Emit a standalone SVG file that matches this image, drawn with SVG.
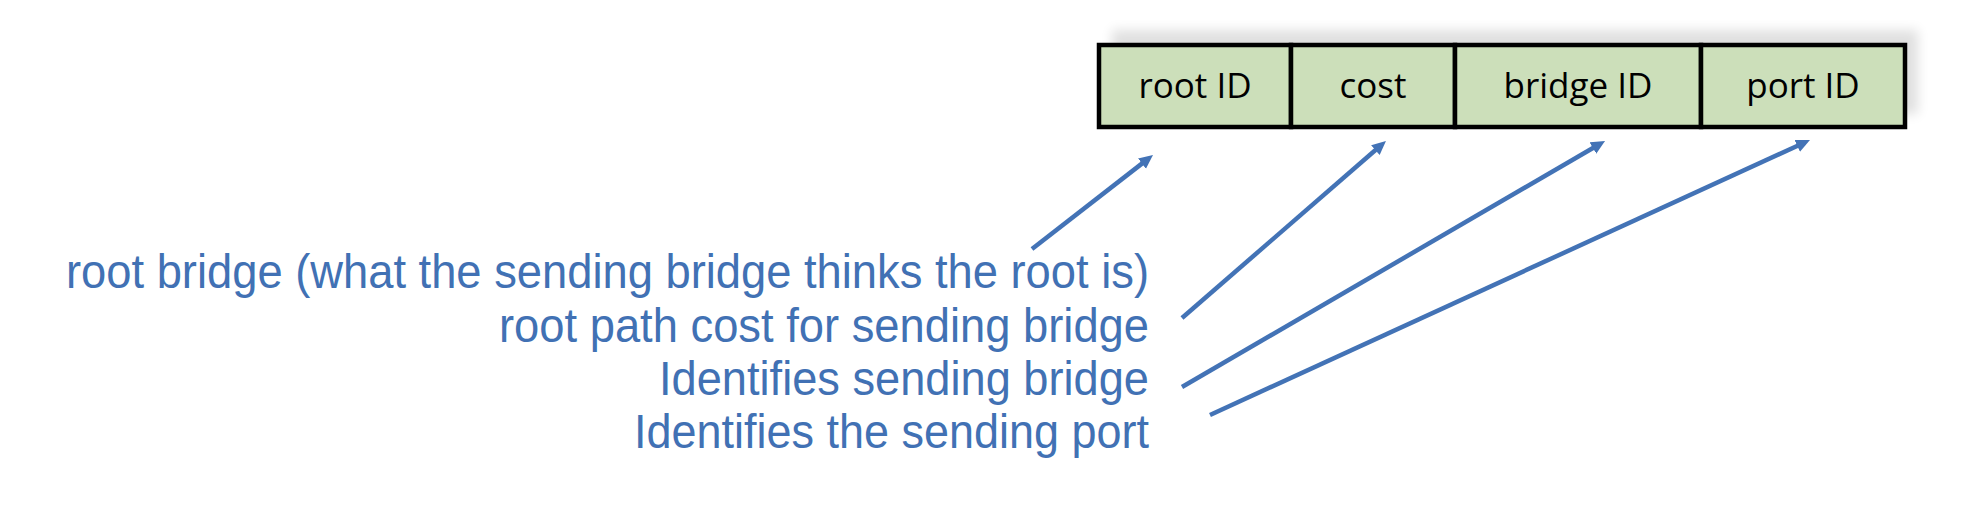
<svg xmlns="http://www.w3.org/2000/svg" width="1962" height="510" viewBox="0 0 1962 510">
  <style>
    .cell { fill: #CCDFBA; stroke: #000; stroke-width: 4.5; }
    .cellText { font-family: "Open Sans", "Liberation Sans", sans-serif; font-size: 35px; fill: #000; text-anchor: middle; }
    .label { font-family: "Liberation Sans", Arial, sans-serif; font-size: 47.5px; fill: #4171B4; text-anchor: end; }
    .conn { stroke: #4373B6; stroke-width: 4.5; fill: none; marker-end: url(#arrow); }
  </style>
  <defs>
    <marker id="arrow" markerUnits="userSpaceOnUse" markerWidth="16" markerHeight="14" refX="4" refY="6.5" orient="auto">
      <path d="M0,0 L14,6.5 L0,13 Z" fill="#4373B6"/>
    </marker>
    <filter id="shadow" x="-10%" y="-50%" width="120%" height="200%">
      <feGaussianBlur stdDeviation="6"/>
    </filter>
  </defs>
  <rect width="1962" height="510" fill="#fff"/>
  <g id="table">
    <rect x="1112" y="30" width="806" height="84" fill="#000" opacity="0.12" filter="url(#shadow)"/>
    <g id="cell-root-id">
      <rect class="cell" x="1099" y="45" width="192" height="82"/>
      <text class="cellText" x="1195" y="98">root ID</text>
    </g>
    <g id="cell-cost">
      <rect class="cell" x="1291" y="45" width="164" height="82"/>
      <text class="cellText" x="1373" y="98">cost</text>
    </g>
    <g id="cell-bridge-id">
      <rect class="cell" x="1455" y="45" width="246" height="82"/>
      <text class="cellText" x="1578" y="98">bridge ID</text>
    </g>
    <g id="cell-port-id">
      <rect class="cell" x="1701" y="45" width="204" height="82"/>
      <text class="cellText" x="1803" y="98">port ID</text>
    </g>
  </g>
  <g id="label-root">
    <text class="label" x="1149" y="288" textLength="1083" lengthAdjust="spacingAndGlyphs">root bridge (what the sending bridge thinks the root is)</text>
  </g>
  <g id="label-cost">
    <text class="label" x="1149" y="342" textLength="650" lengthAdjust="spacingAndGlyphs">root path cost for sending bridge</text>
  </g>
  <g id="label-bridge">
    <text class="label" x="1149" y="395" textLength="490" lengthAdjust="spacingAndGlyphs">Identifies sending bridge</text>
  </g>
  <g id="label-port">
    <text class="label" x="1149" y="448" textLength="515" lengthAdjust="spacingAndGlyphs">Identifies the sending port</text>
  </g>
  <g id="connectors">
    <line class="conn" x1="1032" y1="249" x2="1145.1" y2="161.1"/>
    <line class="conn" x1="1182" y1="318" x2="1378.4" y2="147.5"/>
    <line class="conn" x1="1182" y1="387" x2="1596.4" y2="146.0"/>
    <line class="conn" x1="1210" y1="415" x2="1800.9" y2="144.2"/>
  </g>
</svg>
